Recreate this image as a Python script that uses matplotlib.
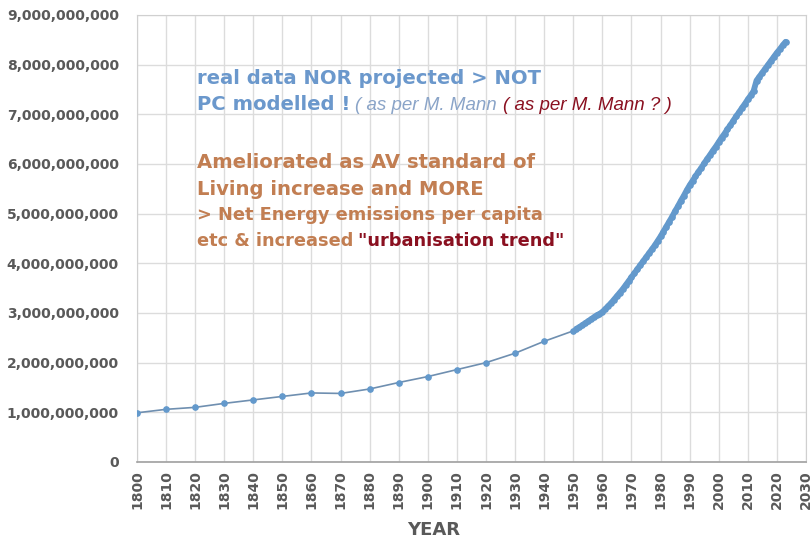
import matplotlib.pyplot as plt
from matplotlib.ticker import FuncFormatter, MultipleLocator

# decadal estimates 1800-1950
decade_years = list(range(1800, 1951, 10))
decade_pop = [0.99, 1.06, 1.10, 1.18, 1.25, 1.32, 1.39, 1.38, 1.47, 1.60,
              1.72, 1.86, 2.00, 2.19, 2.43, 2.64]

# annual estimates 1951-2023
annual_years = list(range(1951, 2024))
annual_pop = [2.68, 2.71, 2.75, 2.79, 2.83, 2.87, 2.91, 2.95, 2.98, 3.02,
              3.08, 3.14, 3.20, 3.27, 3.34, 3.41, 3.48, 3.56, 3.64, 3.72,
              3.80, 3.88, 3.96, 4.04, 4.12, 4.20, 4.28, 4.36, 4.45, 4.54,
              4.64, 4.74, 4.84, 4.94, 5.05, 5.15, 5.26, 5.36, 5.47, 5.57,
              5.66, 5.75, 5.84, 5.92, 6.01, 6.10, 6.18, 6.27, 6.35, 6.44,
              6.53, 6.61, 6.70, 6.78, 6.87, 6.96, 7.04, 7.13, 7.21, 7.30,
              7.38, 7.47, 7.68, 7.76, 7.84, 7.92, 8.00, 8.08, 8.16, 8.24,
              8.31, 8.39, 8.46]

years = decade_years + annual_years
pop = [p * 1e9 for p in decade_pop + annual_pop]

fig = plt.figure(figsize=(8.11, 5.37), dpi=100)
ax = fig.add_axes([0.1689, 0.1397, 0.8249, 0.8324])

dot = '#6399cc'
ax.plot(years, pop, color='#6f8fb0', lw=1.2, zorder=2)
ax.plot(annual_years, [p * 1e9 for p in annual_pop], color=dot, lw=4.2,
        solid_capstyle='round', zorder=3)
ax.plot(years, pop, 'o', color=dot, ms=3.8, mec=dot, zorder=4)

ax.set_xlim(1800, 2030)
ax.set_ylim(0, 9e9)
ax.xaxis.set_major_locator(MultipleLocator(10))
ax.yaxis.set_major_locator(MultipleLocator(1e9))
ax.yaxis.set_major_formatter(FuncFormatter(lambda v, p: f'{int(v):,}'))
ax.grid(True, color='#dcdcdc', lw=1)
ax.set_axisbelow(True)
for s in ['top', 'right', 'left']:
    ax.spines[s].set_color('#d0d0d0')
ax.spines['bottom'].set_color('#a0a0a0')
ax.spines['bottom'].set_linewidth(1.2)
ax.tick_params(length=0, colors='#595959', labelsize=10)
ax.tick_params(axis='y', pad=13)
ax.tick_params(axis='x', pad=6)
for lab in ax.get_xticklabels():
    lab.set_rotation(90)
    lab.set_fontweight('bold')
for lab in ax.get_yticklabels():
    lab.set_fontweight('bold')

# axis title sits partly below the image edge, as in the original
fig.text(434 / 811, 1 - 521 / 537, 'YEAR', ha='center', va='top',
         fontsize=13, fontweight='bold', color='#595959')

blue = '#6b98cc'
orange = '#c27e52'
darkred = '#8a1020'

renderer = fig.canvas.get_renderer()


def after(t, gap=0):
    # x position (figure fraction) just after text t
    bb = t.get_window_extent(renderer)
    return (bb.x1 + gap) / 811


fig.text(197 / 811, 1 - 84 / 537, 'real data NOR projected > NOT',
         fontsize=14.1, fontweight='heavy', color=blue)
t = fig.text(197 / 811, 1 - 110 / 537, 'PC modelled !', fontsize=14.1,
             fontweight='heavy', color=blue)
t2 = fig.text(after(t, 5), 1 - 110 / 537, '( as per M. Mann', fontsize=13.5,
              style='italic', family='Liberation Sans', color='#8aa4c8')
fig.text(after(t2, 6), 1 - 110 / 537, '( as per M. Mann ? )', fontsize=13.5,
         style='italic', family='Liberation Sans', color=darkred)

fig.text(197 / 811, 1 - 168 / 537, 'Ameliorated as AV standard of',
         fontsize=14.1, fontweight='heavy', color=orange)
fig.text(197 / 811, 1 - 195 / 537, 'Living increase and MORE',
         fontsize=14.1, fontweight='heavy', color=orange)
fig.text(197 / 811, 1 - 220 / 537, '> Net Energy emissions per capita',
         fontsize=12.8, fontweight='heavy', color=orange)
t3 = fig.text(197 / 811, 1 - 246 / 537, 'etc & increased', fontsize=12.8,
              fontweight='heavy', color=orange)
fig.text(after(t3, 5), 1 - 246 / 537, '"urbanisation trend"', fontsize=12.8,
         fontweight='heavy', color=darkred)

fig.savefig('out.png', dpi=100)
